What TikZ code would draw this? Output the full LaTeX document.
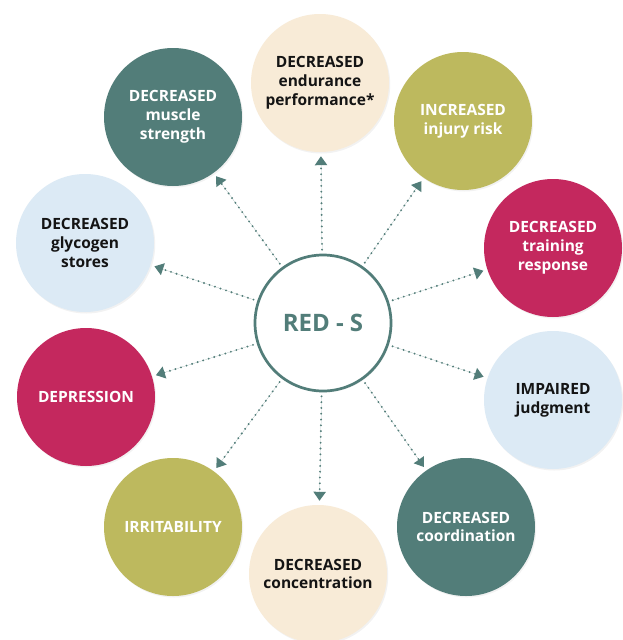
\documentclass[tikz,border=0pt]{standalone}
\usepackage{fontspec}
\setmainfont{Open Sans}
\usetikzlibrary{arrows.meta,shadows}
\definecolor{rteal}{HTML}{527D79}
\definecolor{rcream}{HTML}{F8EBD7}
\definecolor{rolive}{HTML}{BDB95E}
\definecolor{rcrim}{HTML}{C4285E}
\definecolor{rblue}{HTML}{DCEAF5}
\definecolor{rtext}{HTML}{141414}
\begin{document}
\begin{tikzpicture}[x=1pt,y=-1pt,
  bubble/.style={circle, minimum size=138pt, inner sep=0pt, align=center,
    font=\fontsize{15.5}{18.8}\selectfont\bfseries,
    drop shadow={opacity=0.10, shadow xshift=1.2pt, shadow yshift=-1.5pt}},
  tealb/.style={bubble, fill=rteal, text=white},
  creamb/.style={bubble, fill=rcream, text=rtext},
  oliveb/.style={bubble, fill=rolive, text=white},
  crimb/.style={bubble, fill=rcrim, text=white},
  blueb/.style={bubble, fill=rblue, text=rtext},
  hub/.style={circle, draw=rteal, line width=2.7pt, fill=white, minimum size=136pt,
    inner sep=0pt, text=rteal, font=\fontsize{24}{28}\selectfont\bfseries,
    drop shadow={opacity=0.10, shadow xshift=1.2pt, shadow yshift=-1.5pt}},
  link/.style={draw=rteal, fill=rteal, line width=2.1pt, line cap=round,
    dash pattern=on 0pt off 5.8pt, shorten <=4pt, shorten >=4pt,
    -{Triangle[length=9pt,width=12pt]}}]
\useasboundingbox (0,0) rectangle (623,640);
\fill[white] (0,0) rectangle (623,640);

\node[creamb] (top) at (320,83) {DECREASED\\endurance\\performance*};
\node[tealb] (tl) at (173,117) {DECREASED\\muscle\\strength};
\node[oliveb] (tr) at (463,121) {INCREASED\\injury risk};
\node[crimb] (ru) at (553,248) {DECREASED\\training\\response};
\node[blueb] (rl) at (553,400) {IMPAIRED\\judgment};
\node[tealb] (br) at (466,527) {DECREASED\\coordination};
\node[creamb] (bot) at (318,574) {DECREASED\\concentration};
\node[oliveb] (bl) at (173,527) {IRRITABILITY};
\node[crimb] (ll) at (86,397) {DEPRESSION};
\node[blueb] (lu) at (85,243) {DECREASED\\glycogen\\stores};

\node[hub] (c) at (323,323) {RED - S};

\foreach \t in {top,tl,tr,ru,rl,br,bot,bl,ll,lu}
  \draw[link] (c) -- (\t);
\end{tikzpicture}
\end{document}
